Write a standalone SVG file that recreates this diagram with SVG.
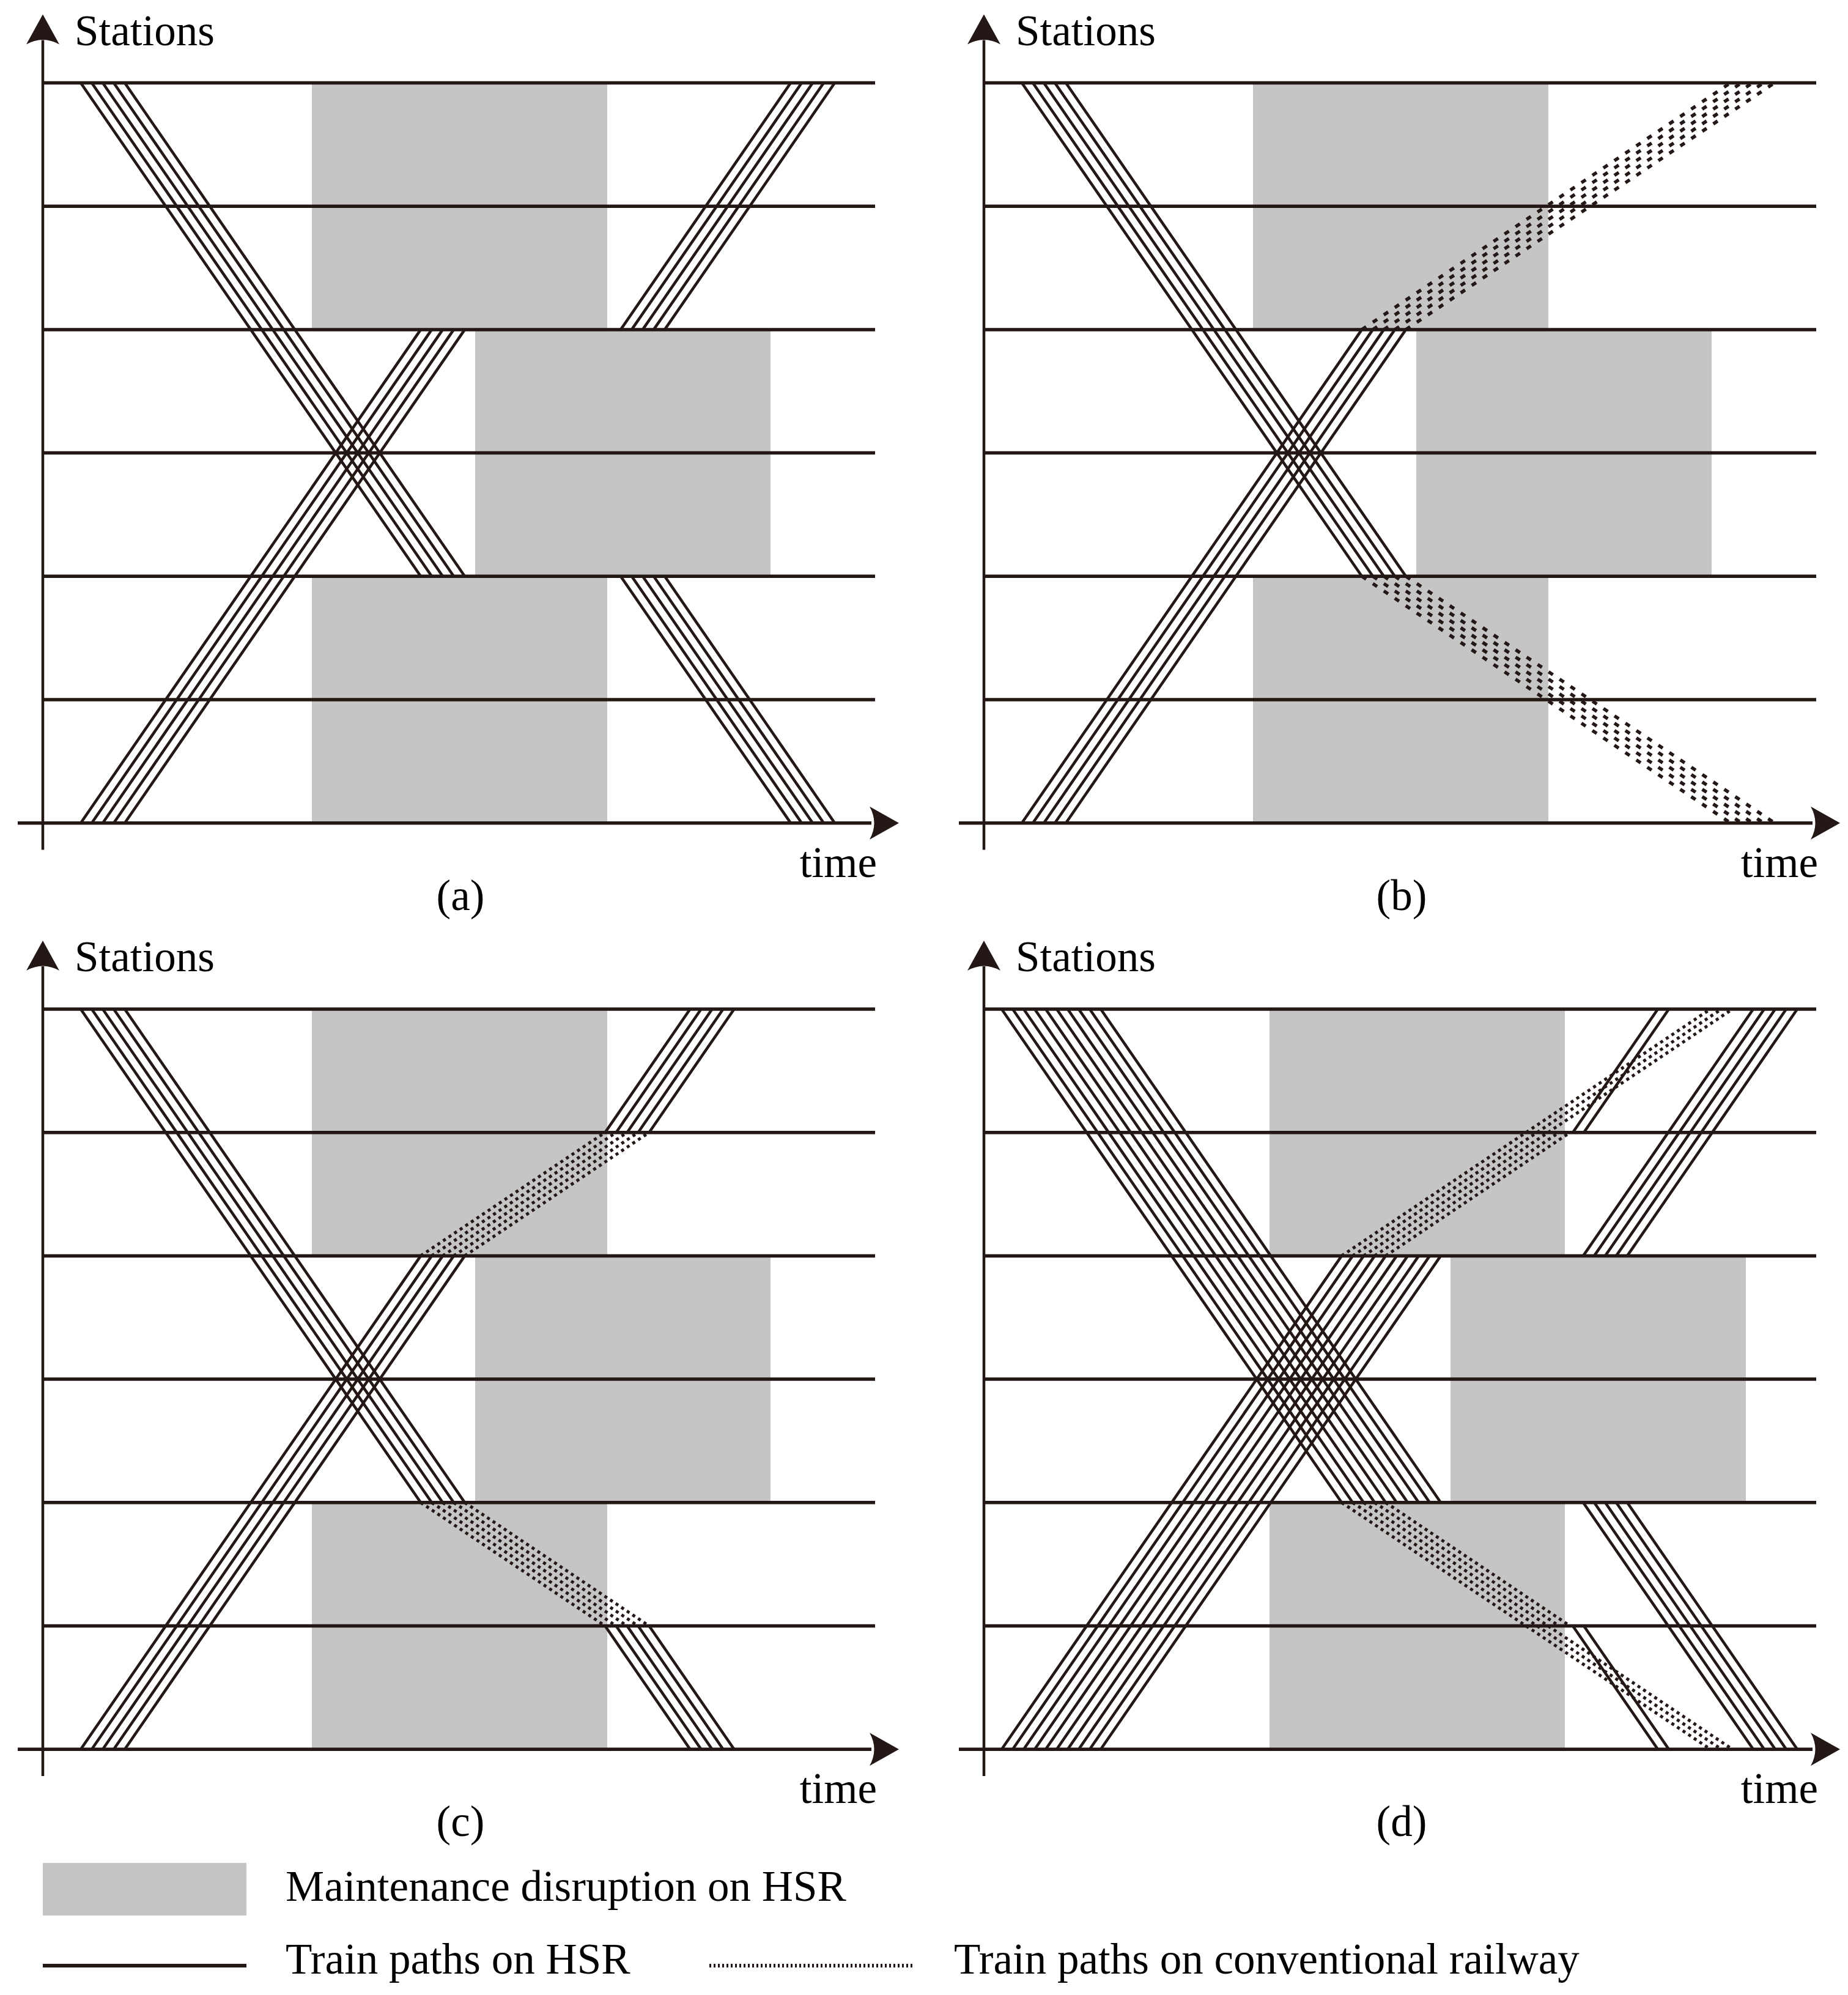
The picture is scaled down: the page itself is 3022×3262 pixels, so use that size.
<svg xmlns="http://www.w3.org/2000/svg" xmlns:xlink="http://www.w3.org/1999/xlink" width="3022" height="3262" viewBox="0 0 3022 3262">
<style>
.bg{fill:#ffffff}
.grey{fill:#c5c5c5}
.st{stroke:#231815;stroke-width:5.5;fill:none}
.ax{stroke:#231815;stroke-width:4.5;fill:none}
.hsr{stroke:#231815;stroke-width:4.6;fill:none}
.cvb{stroke:#231815;stroke-width:5.5;fill:none;stroke-dasharray:8.5 13.1}
.cv{stroke:#231815;stroke-width:5;fill:none;stroke-dasharray:5 6}
.arr{fill:#231815}
.txt{font-family:"Liberation Serif","Times New Roman",serif;font-size:71px;fill:#000000}
</style>
<defs>
<g id="grid">
<path class="st" d="M0 0H1361M0 201.7H1361M0 403.4H1361M0 605.1H1361M0 806.8H1361M0 1008.5H1361"/>
</g>
<g id="axes">
<path class="ax" d="M0 1254V-70"/>
<path class="st" d="M-41 1210.2H1355"/>
<path class="arr" d="M0 -112L27 -63Q0 -78 -27 -63Z"/>
<path class="arr" d="M1400 1210.2L1352 1183.2Q1367 1210.2 1352 1237.2Z"/>
<text class="txt" x="52" y="-62">Stations</text>
<text class="txt" x="1364" y="1298" text-anchor="end">time</text>
</g>
<g id="rects-abc">
<rect class="grey" x="440" y="0" width="483" height="403.4"/>
<rect class="grey" x="707" y="403.4" width="483" height="403.4"/>
<rect class="grey" x="440" y="806.8" width="483" height="403.4"/>
</g>
<path id="d1" class="hsr" d="M62 0L618 806.8M80 0L636 806.8M98 0L654 806.8M116 0L672 806.8M134 0L690 806.8"/>
<path id="u1" class="hsr" d="M62 1210.2L618 403.4M80 1210.2L636 403.4M98 1210.2L654 403.4M116 1210.2L672 403.4M134 1210.2L690 403.4"/>
</defs>
<rect class="bg" x="0" y="0" width="3022" height="3262"/>

<g id="panel-a" transform="translate(70,135.5)">
<use xlink:href="#rects-abc"/>
<use xlink:href="#grid"/>
<g id="paths-a">
<use xlink:href="#d1"/>
<use xlink:href="#u1"/>
<path class="hsr" d="M945 806.8L1223 1210.2M963 806.8L1241 1210.2M981 806.8L1259 1210.2M999 806.8L1277 1210.2M1017 806.8L1295 1210.2"/>
<path class="hsr" d="M945 403.4L1223 0M963 403.4L1241 0M981 403.4L1259 0M999 403.4L1277 0M1017 403.4L1295 0"/>
</g>
<use xlink:href="#axes"/>
<text class="txt" x="683" y="1352" text-anchor="middle">(a)</text>
</g>

<g id="panel-b" transform="translate(1609,135.5)">
<use xlink:href="#rects-abc"/>
<use xlink:href="#grid"/>
<g id="paths-b">
<use xlink:href="#d1"/>
<use xlink:href="#u1"/>
<path class="cvb" d="M618 806.8L1221 1210.2M636 806.8L1239 1210.2M654 806.8L1257 1210.2M672 806.8L1275 1210.2M690 806.8L1293 1210.2"/>
<path class="cvb" d="M618 403.4L1221 0M636 403.4L1239 0M654 403.4L1257 0M672 403.4L1275 0M690 403.4L1293 0"/>
</g>
<use xlink:href="#axes"/>
<text class="txt" x="683" y="1352" text-anchor="middle">(b)</text>
</g>

<g id="panel-c" transform="translate(70,1650)">
<use xlink:href="#rects-abc"/>
<use xlink:href="#grid"/>
<g id="paths-c">
<use xlink:href="#d1"/>
<use xlink:href="#u1"/>
<path class="cv" d="M618 806.8L919.5 1008.5M636 806.8L937.5 1008.5M654 806.8L955.5 1008.5M672 806.8L973.5 1008.5M690 806.8L991.5 1008.5"/>
<path class="hsr" d="M919.5 1008.5L1058.5 1210.2M937.5 1008.5L1076.5 1210.2M955.5 1008.5L1094.5 1210.2M973.5 1008.5L1112.5 1210.2M991.5 1008.5L1130.5 1210.2"/>
<path class="cv" d="M618 403.4L919.5 201.7M636 403.4L937.5 201.7M654 403.4L955.5 201.7M672 403.4L973.5 201.7M690 403.4L991.5 201.7"/>
<path class="hsr" d="M919.5 201.7L1058.5 0M937.5 201.7L1076.5 0M955.5 201.7L1094.5 0M973.5 201.7L1112.5 0M991.5 201.7L1130.5 0"/>
</g>
<use xlink:href="#axes"/>
<text class="txt" x="683" y="1352" text-anchor="middle">(c)</text>
</g>

<g id="panel-d" transform="translate(1609,1650)">
<rect class="grey" x="467" y="0" width="483" height="403.4"/>
<rect class="grey" x="763" y="403.4" width="483" height="403.4"/>
<rect class="grey" x="467" y="806.8" width="483" height="403.4"/>
<use xlink:href="#grid"/>
<g id="paths-d">
<path class="hsr" d="M29 0L585 806.8M47 0L603 806.8M65 0L621 806.8M83 0L639 806.8M101 0L657 806.8M119 0L675 806.8M137 0L693 806.8M155 0L711 806.8M173 0L729 806.8M191 0L747 806.8"/>
<path class="hsr" d="M29 1210.2L585 403.4M47 1210.2L603 403.4M65 1210.2L621 403.4M83 1210.2L639 403.4M101 1210.2L657 403.4M119 1210.2L675 403.4M137 1210.2L693 403.4M155 1210.2L711 403.4M173 1210.2L729 403.4M191 1210.2L747 403.4"/>
<path class="cv" d="M585 806.8L886.5 1008.5L1188 1210.2M603 806.8L904.5 1008.5L1206 1210.2M621 806.8L922.5 1008.5L1224 1210.2M639 806.8L940.5 1008.5M657 806.8L958.5 1008.5"/>
<path class="hsr" d="M963 1008.5L1102 1210.2M981 1008.5L1120 1210.2"/>
<path class="hsr" d="M980 806.8L1258 1210.2M998 806.8L1276 1210.2M1016 806.8L1294 1210.2M1034 806.8L1312 1210.2M1052 806.8L1330 1210.2"/>
<path class="cv" d="M585 403.4L886.5 201.7L1188 0M603 403.4L904.5 201.7L1206 0M621 403.4L922.5 201.7L1224 0M639 403.4L940.5 201.7M657 403.4L958.5 201.7"/>
<path class="hsr" d="M963 201.7L1102 0M981 201.7L1120 0"/>
<path class="hsr" d="M980 403.4L1258 0M998 403.4L1276 0M1016 403.4L1294 0M1034 403.4L1312 0M1052 403.4L1330 0"/>
</g>
<use xlink:href="#axes"/>
<text class="txt" x="683" y="1352" text-anchor="middle">(d)</text>
</g>

<g id="legend">
<g id="legend-maintenance">
<rect class="grey" x="70" y="3046" width="333" height="86"/>
<text class="txt" x="467" y="3108">Maintenance disruption on HSR</text>
</g>
<g id="legend-hsr">
<path d="M70 3214H403" stroke="#231815" stroke-width="6" fill="none"/>
<text class="txt" x="467" y="3227">Train paths on HSR</text>
</g>
<g id="legend-conventional">
<path d="M1160 3214H1493" stroke="#231815" stroke-width="6" fill="none" stroke-dasharray="3 4"/>
<text class="txt" x="1560" y="3227">Train paths on conventional railway</text>
</g>
</g>
</svg>
